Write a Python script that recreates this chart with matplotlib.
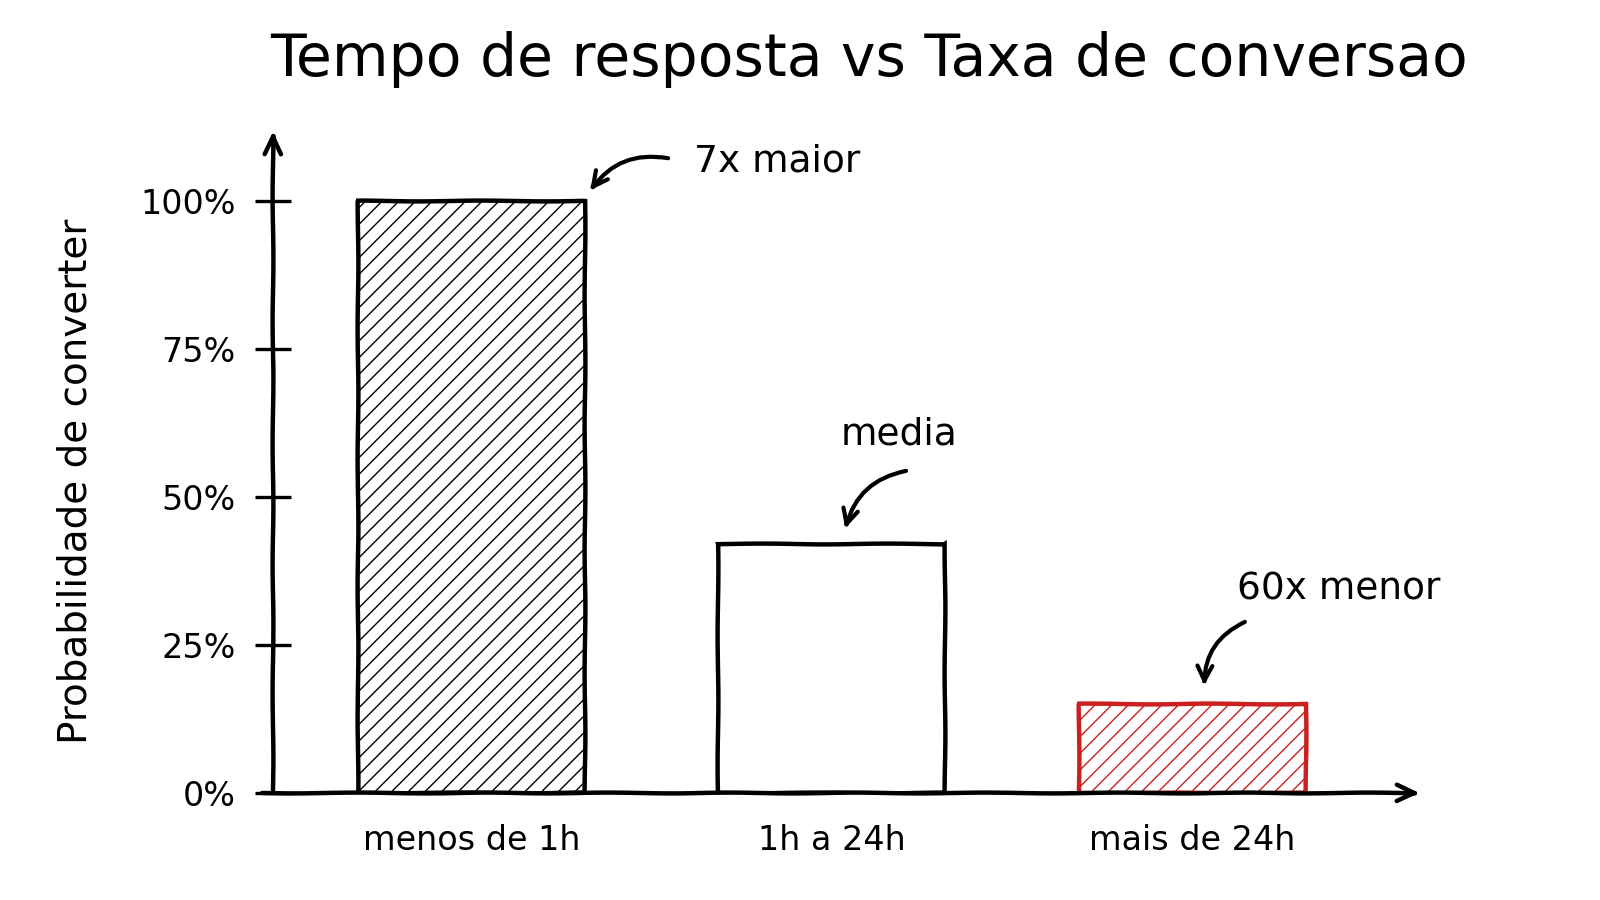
import numpy as np
import matplotlib
matplotlib.use('Agg')
import matplotlib.pyplot as plt

categories = ['menos de 1h', '1h a 24h', 'mais de 24h']
values = [100, 42, 15]
y_ticks = [0, 25, 50, 75, 100]
y_tick_labels = ['0%', '25%', '50%', '75%', '100%']

notes = ['7x maior', 'media', '60x menor']
note_xy = [(0.618, 106.7), (1.186, 60.6), (2.407, 34.4)]
note_ha = ['left', 'center', 'center']
arrow_from = [(0.546, 107.2), (1.206, 54.4), (2.146, 28.9)]
arrow_to = [(0.329, 101.7), (1.037, 44.6), (2.033, 18.1)]

red = '#cc1f1f'

plt.rcParams['font.family'] = ['DejaVu Sans']
plt.rcParams['path.sketch'] = (0.4, 140, 2)
plt.rcParams['hatch.linewidth'] = 1.0

fig = plt.figure(figsize=(16, 9), dpi=100)
ax = fig.add_axes([273/1600, 1-793/900, (1423-273)/1600, (793-128)/900])

x = np.arange(len(categories))
edge = ['black', 'black', red]
hatch = ['//', '', '//']
for i in range(len(values)):
    ax.bar(x[i], values[i], width=0.63, facecolor='white', edgecolor=edge[i],
           hatch=hatch[i], linewidth=3.2, zorder=3)

ax.set_xlim(-0.55, 2.64)
ax.set_ylim(0, 112.3)

for s in ax.spines.values():
    s.set_visible(False)

# hand drawn axes with arrows
ax.annotate('', xy=(0, 1.0), xytext=(0, 0), xycoords='axes fraction',
            arrowprops=dict(arrowstyle='->,head_length=1.3,head_width=0.6', lw=3.2, color='black'), zorder=5)
ax.annotate('', xy=(1.0, 0), xytext=(-0.012, 0), xycoords='axes fraction',
            arrowprops=dict(arrowstyle='->,head_length=1.3,head_width=0.6', lw=3.2, color='black'), zorder=5)

ax.set_yticks(y_ticks)
ax.set_yticklabels(y_tick_labels, fontsize=24)
ax.tick_params(axis='y', direction='inout', length=26, width=2.4, pad=14)
ax.set_xticks(x)
ax.set_xticklabels(categories, fontsize=24)
ax.tick_params(axis='x', length=0, pad=22)

ax.set_ylabel('Probabilidade de converter', fontsize=28, labelpad=33, y=0.468)

fig.suptitle('Tempo de resposta vs Taxa de conversao', fontsize=42, x=0.543, y=0.965)

# notes
for i in range(len(notes)):
    ax.text(note_xy[i][0], note_xy[i][1], notes[i], fontsize=27, ha=note_ha[i], va='center')
    ax.annotate('', xy=arrow_to[i], xytext=arrow_from[i],
                arrowprops=dict(arrowstyle='->,head_length=1.1,head_width=0.55', lw=3,
                                color='black', connectionstyle='arc3,rad=0.3',
                                shrinkA=0, shrinkB=0))

plt.savefig('out.png', dpi=100, facecolor='white')
